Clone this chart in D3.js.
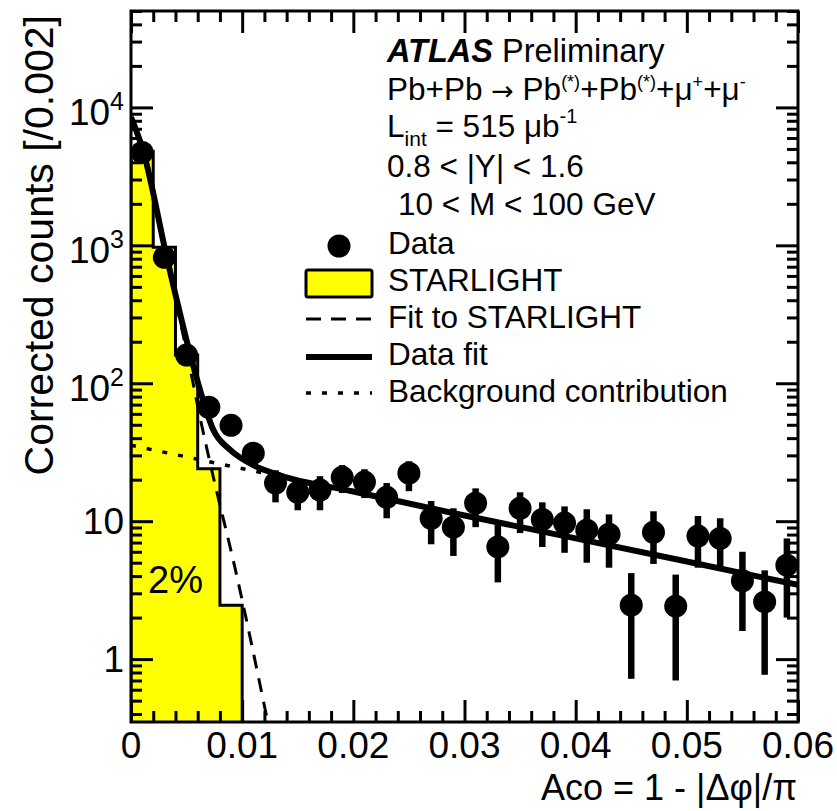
<!DOCTYPE html>
<html lang="en">
<head>
<meta charset="utf-8">
<script src="https://cdn.jsdelivr.net/npm/d3@7"></script>
<style>
  body { margin: 0; background: #fff; }
  svg text { font-family: "Liberation Sans", Arial, Helvetica, sans-serif; fill: #000; }
</style>
</head>
<body>
<script>

// ---- data ----
var binCenters = [0.001, 0.003, 0.005, 0.007, 0.009, 0.011, 0.013, 0.015, 0.017, 0.019,
                  0.021, 0.023, 0.025, 0.027, 0.029, 0.031, 0.033, 0.035, 0.037, 0.039,
                  0.041, 0.043, 0.045, 0.047, 0.049, 0.051, 0.053, 0.055, 0.057, 0.059];
var dataCounts = [4720, 819, 160, 67, 49.6, 31.1, 18.9, 16.2, 16.8, 20.8,
                  19.2, 14.9, 22.3, 10.5, 9.05, 13.5, 6.5, 12.4, 10.3, 9.7,
                  8.6, 8.05, 2.46, 8.3, 2.42, 7.8, 7.5, 3.7, 2.6, 4.8];
var dataLow    = [4650, 790, 147, 59, 43, 25.5, 13.7, 12.0, 12.0, 16.0,
                  14.7, 10.5, 16.5, 6.8, 5.6, 9.05, 3.6, 8.2, 6.5, 5.9,
                  5.0, 4.6, 0.72, 4.9, 0.70, 4.6, 4.6, 1.6, 0.77, 2.0];
var dataHigh   = [4790, 848, 173, 75, 57, 36.5, 23.4, 19.8, 21.2, 25.5,
                  23.8, 18.9, 27.2, 14.0, 12.4, 17.3, 9.5, 16.2, 13.7, 12.8,
                  12.2, 11.2, 4.2, 11.8, 4.1, 10.9, 10.5, 6.0, 4.4, 7.5];

// STARLIGHT histogram
var starEdges  = [0, 0.002, 0.004, 0.006, 0.008, 0.010];
var starCounts = [4800, 967, 160, 24, 2.46];

// fit curves, sampled from the figure
var dataFitX = [0, 0.00108, 0.00324, 0.0053, 0.0062, 0.0074, 0.0089, 0.011, 0.0134, 0.02, 0.03, 0.04, 0.05, 0.06];
var dataFitY = [8500, 4880, 805, 165, 90, 46, 33, 25.5, 21.5, 16.4, 11.0, 7.5, 5.1, 3.45];
var starFitX = [0, 0.00108, 0.00324, 0.0053, 0.0062, 0.0074, 0.0092, 0.0123];
var starFitY = [8500, 4850, 780, 130, 57, 21, 5.2, 0.35];
var bkgX = [0, 0.06];
var bkgY = [35.5, 3.45];

var xTicks = [0, 0.01, 0.02, 0.03, 0.04, 0.05, 0.06];
var xTickLabels = ["0", "0.01", "0.02", "0.03", "0.04", "0.05", "0.06"];
var yTicks = [1, 10, 100, 1000, 10000];

var W = 837, H = 811;
var padL = 131, padR = 798, padT = 11, padB = 722;

var svg = d3.select("body").append("svg")
    .attr("width", W)
    .attr("height", H);

var x = d3.scaleLinear().domain([0, 0.06]).range([padL, padR]);
var y = d3.scaleLog().domain([0.35, 5e4]).range([padB, padT]);

svg.append("clipPath").attr("id", "plotclip")
    .append("rect")
    .attr("x", padL).attr("y", padT)
    .attr("width", padR - padL).attr("height", padB - padT);

var plot = svg.append("g").attr("clip-path", "url(#plotclip)");

/*
  STARLIGHT histogram
*/
var histPts = [[x(starEdges[0]), padB]];
starCounts.forEach(function(c, i) {
    histPts.push([x(starEdges[i]), y(c)]);
    histPts.push([x(starEdges[i + 1]), y(c)]);
});
histPts.push([x(starEdges[starEdges.length - 1]), padB]);

plot.append("path")
    .attr("d", d3.line()(histPts))
    .style("fill", "#ffff00")
    .style("stroke", "#000")
    .style("stroke-width", 3)
    .style("stroke-linejoin", "miter");

/*
  fits
*/
var curve = d3.line()
    .x(function(d) { return x(d[0]); })
    .y(function(d) { return y(d[1]); })
    .curve(d3.curveMonotoneX);

plot.append("path")
    .attr("d", curve(d3.zip(bkgX, bkgY)))
    .style("fill", "none").style("stroke", "#000")
    .style("stroke-width", 3.5)
    .style("stroke-dasharray", "5,11");

plot.append("path")
    .attr("d", curve(d3.zip(starFitX, starFitY)))
    .style("fill", "none").style("stroke", "#000")
    .style("stroke-width", 3)
    .style("stroke-dasharray", "14,10");

plot.append("path")
    .attr("d", curve(d3.zip(dataFitX, dataFitY)))
    .style("fill", "none").style("stroke", "#000")
    .style("stroke-width", 6);

/*
  data points
*/
plot.selectAll(".err")
    .data(binCenters)
    .enter()
    .append("line")
    .attr("class", "err")
    .attr("x1", function(d) { return x(d); })
    .attr("x2", function(d) { return x(d); })
    .attr("y1", function(d, i) { return y(dataLow[i]); })
    .attr("y2", function(d, i) { return y(dataHigh[i]); })
    .style("stroke", "#000")
    .style("stroke-width", 6.5);

plot.selectAll(".pt")
    .data(binCenters)
    .enter()
    .append("circle")
    .attr("class", "pt")
    .attr("cx", function(d) { return x(d); })
    .attr("cy", function(d, i) { return y(dataCounts[i]); })
    .attr("r", 11.5)
    .style("fill", "#000");

/*
  axes and frame
*/
var xMinor = d3.range(0, 31).map(function(i) { return i * 0.002; })
    .filter(function(v) { return Math.abs(v * 100 - Math.round(v * 100)) > 1e-6; });
var yMinor = [];
[0.1, 1, 10, 100, 1000, 10000].forEach(function(dec) {
    for (var k = 2; k <= 9; k++) {
        var v = k * dec;
        if (v >= 0.35 && v <= 5e4) yMinor.push(v);
    }
});

function styleAxis(g) {
    g.select(".domain").remove();
    g.selectAll("line").style("stroke", "#000").style("stroke-width", 3);
    g.selectAll("text").remove();
}

svg.append("g").attr("transform", "translate(0," + padB + ")")
    .call(d3.axisBottom(x).tickValues(xTicks).tickSize(-22)).call(styleAxis);
svg.append("g").attr("transform", "translate(0," + padB + ")")
    .call(d3.axisBottom(x).tickValues(xMinor).tickSize(-11)).call(styleAxis);
svg.append("g").attr("transform", "translate(0," + padT + ")")
    .call(d3.axisTop(x).tickValues(xTicks).tickSize(-22)).call(styleAxis);
svg.append("g").attr("transform", "translate(0," + padT + ")")
    .call(d3.axisTop(x).tickValues(xMinor).tickSize(-11)).call(styleAxis);

svg.append("g").attr("transform", "translate(" + padL + ",0)")
    .call(d3.axisLeft(y).tickValues(yTicks).tickSize(-22)).call(styleAxis);
svg.append("g").attr("transform", "translate(" + padL + ",0)")
    .call(d3.axisLeft(y).tickValues(yMinor).tickSize(-11)).call(styleAxis);
svg.append("g").attr("transform", "translate(" + padR + ",0)")
    .call(d3.axisRight(y).tickValues(yTicks).tickSize(-22)).call(styleAxis);
svg.append("g").attr("transform", "translate(" + padR + ",0)")
    .call(d3.axisRight(y).tickValues(yMinor).tickSize(-11)).call(styleAxis);

svg.append("rect")
    .attr("x", padL).attr("y", padT)
    .attr("width", padR - padL).attr("height", padB - padT)
    .style("fill", "none").style("stroke", "#000").style("stroke-width", 3);

// x tick labels
svg.selectAll(".xlab")
    .data(xTicks)
    .enter()
    .append("text")
    .attr("class", "xlab")
    .attr("x", function(d) { return x(d); })
    .attr("y", 758)
    .attr("text-anchor", "middle")
    .style("font-size", "37px")
    .text(function(d, i) { return xTickLabels[i]; });

// y tick labels
yTicks.forEach(function(v) {
    var p = Math.round(Math.log10(v));
    var t = svg.append("text")
        .attr("text-anchor", "end")
        .style("font-size", "37px");
    if (p <= 1) {
        t.attr("x", 124).attr("y", y(v) + 13).text(p === 0 ? "1" : "10");
    } else {
        t.attr("x", 124).attr("y", y(v) + 18);
        t.append("tspan").text("10");
        t.append("tspan").attr("dy", -15).style("font-size", "25px").text(p);
    }
});

// axis titles
svg.append("text")
    .attr("transform", "translate(53,15) rotate(-90)")
    .attr("text-anchor", "end")
    .style("font-size", "41px")
    .text("Corrected counts [/0.002]");

svg.append("text")
    .attr("x", 797).attr("y", 800)
    .attr("text-anchor", "end")
    .style("font-size", "36px")
    .text("Aco = 1 - |\u0394\u03c6|/\u03c0");

/*
  labels
*/
var fs = 31.5;
var t1 = svg.append("text").attr("x", 387).attr("y", 62).style("font-size", "32.5px");
t1.append("tspan").style("font-weight", "bold").style("font-style", "italic").text("ATLAS");
t1.append("tspan").text(" Preliminary");

var t2 = svg.append("text").attr("x", 387).attr("y", 100).style("font-size", fs + "px");
t2.append("tspan").text("Pb+Pb ");
t2.append("tspan").style("font-family", "'DejaVu Sans'").style("font-size", "27px").text("\u2192");
t2.append("tspan").text(" Pb");
t2.append("tspan").attr("dy", -12).style("font-size", "18px").text("(*)");
t2.append("tspan").attr("dy", 12).text("+Pb");
t2.append("tspan").attr("dy", -12).style("font-size", "18px").text("(*)");
t2.append("tspan").attr("dy", 12).text("+\u03bc");
t2.append("tspan").attr("dy", -12).style("font-size", "18px").text("+");
t2.append("tspan").attr("dy", 12).text("+\u03bc");
t2.append("tspan").attr("dy", -12).style("font-size", "18px").text("-");

var t3 = svg.append("text").attr("x", 387).attr("y", 137).style("font-size", fs + "px");
t3.append("tspan").text("L");
t3.append("tspan").attr("dy", 9).style("font-size", "21px").text("int");
t3.append("tspan").attr("dy", -9).text(" = 515 \u03bcb");
t3.append("tspan").attr("dy", -14).style("font-size", "20px").text("-1");

svg.append("text").attr("x", 387).attr("y", 177).style("font-size", fs + "px")
    .text("0.8 < |Y| < 1.6");
svg.append("text").attr("x", 398).attr("y", 215).style("font-size", fs + "px")
    .text("10 < M < 100 GeV");

svg.append("text").attr("x", 148).attr("y", 593).style("font-size", "38px").text("2%");

/*
  legend
*/
var legY = [254, 291, 328, 365, 402];
var legText = ["Data", "STARLIGHT", "Fit to STARLIGHT", "Data fit", "Background contribution"];
var legend = svg.append("g");

legend.append("circle").attr("cx", 339).attr("cy", legY[0] - 8).attr("r", 11.5).style("fill", "#000");
legend.append("rect").attr("x", 306).attr("y", legY[1] - 21).attr("width", 66).attr("height", 27)
    .attr("rx", 2)
    .style("fill", "#ffff00").style("stroke", "#000").style("stroke-width", 3);
legend.append("line").attr("x1", 306).attr("x2", 372).attr("y1", legY[2] - 9).attr("y2", legY[2] - 9)
    .style("stroke", "#000").style("stroke-width", 3).style("stroke-dasharray", "15,10");
legend.append("line").attr("x1", 306).attr("x2", 372).attr("y1", legY[3] - 8).attr("y2", legY[3] - 8)
    .style("stroke", "#000").style("stroke-width", 6);
legend.append("line").attr("x1", 306).attr("x2", 372).attr("y1", legY[4] - 9).attr("y2", legY[4] - 9)
    .style("stroke", "#000").style("stroke-width", 3.5).style("stroke-dasharray", "5,11");

legend.selectAll(".legtxt")
    .data(legText)
    .enter()
    .append("text")
    .attr("class", "legtxt")
    .attr("x", 388)
    .attr("y", function(d, i) { return legY[i]; })
    .style("font-size", fs + "px")
    .text(function(d) { return d; });

</script>
</body>
</html>
